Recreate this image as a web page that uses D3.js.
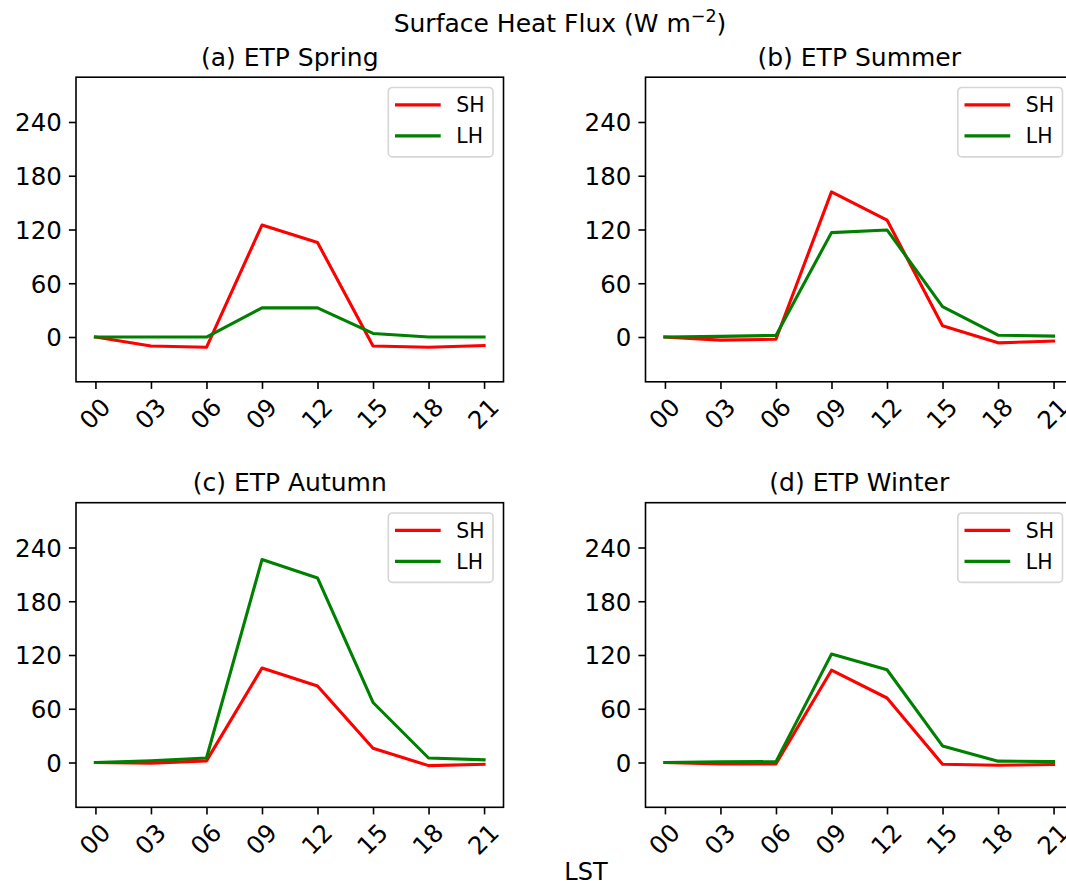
<!DOCTYPE html>
<html>
<head>
<meta charset="utf-8">
<script src="https://cdn.jsdelivr.net/npm/d3@7"></script>
<style>
  html, body { margin: 0; padding: 0; background: #ffffff; }
  svg { display: block; }
  text { font-family: "DejaVu Sans", sans-serif; fill: #000; }
</style>
</head>
<body>
<div id="chart"></div>
<script>
// ---- data ----
const hourLabels = ["00", "03", "06", "09", "12", "15", "18", "21"];
const yTicks = [0, 60, 120, 180, 240];
const panelTitles = ["(a) ETP Spring", "(b) ETP Summer", "(c) ETP Autumn", "(d) ETP Winter"];
const seriesNames = ["SH", "LH"];
const seriesColors = ["#ff0000", "#008000"];

const shSpring = [0, -10, -11.5, 125, 105.5, -10, -11.5, -9.5];
const lhSpring = [0, 0, 0, 32.5, 32.5, 4, 0, 0];
const shSummer = [0, -3.5, -2.5, 162, 130.5, 12.5, -6.5, -4.5];
const lhSummer = [0, 0.7, 1.8, 116.5, 119.5, 34, 2, 1];
const shAutumn = [0, -0.7, 1.8, 105.5, 85.5, 16, -3.5, -2];
const lhAutumn = [0, 2, 5, 226.5, 206, 67, 5, 3];
const shWinter = [0, -1.5, -1.5, 103, 72, -2, -3, -2.2];
const lhWinter = [0, 0.7, 1, 121, 103.5, 18.5, 1.5, 1];

const suptitle = "Surface Heat Flux (W m";
const xLabel = "LST";

// ---- layout ----
const width = 1066, height = 881;
const W = 427.5, H = 304.6;
const origins = [[76, 77.2], [645.5, 77.2], [76, 502.7], [645.5, 502.7]];
const panelData = [
  [shSpring, lhSpring], [shSummer, lhSummer],
  [shAutumn, lhAutumn], [shWinter, lhWinter]
];
const tickFont = 24.5, titleFont = 25, legendFont = 20.4;
const tickLen = 7.1, tickPad = 7.1, axisLW = 1.6, lineW = 3.1;

const svg = d3.select("#chart").append("svg")
  .attr("width", width).attr("height", height)
  .attr("viewBox", `0 0 ${width} ${height}`);

svg.append("rect").attr("width", width).attr("height", height).attr("fill", "#fff");

// suptitle with superscript
const st = svg.append("text")
  .attr("x", 560).attr("y", 32)
  .attr("text-anchor", "middle")
  .attr("font-size", 25);
st.append("tspan").text(suptitle);
st.append("tspan").attr("font-size", 17.5).attr("dy", -10).text("\u22122");
st.append("tspan").attr("dy", 10).text(")");

svg.append("text")
  .attr("x", 586).attr("y", 879.5)
  .attr("text-anchor", "middle")
  .attr("font-size", 24)
  .text(xLabel);

const x = d3.scaleLinear().domain([-0.35, 7.35]).range([0, W]);
const y = d3.scaleLinear().domain([-50, 290]).range([H, 0]);

panelData.forEach((series, pi) => {
  const [ox, oy] = origins[pi];
  const g = svg.append("g").attr("transform", `translate(${ox},${oy})`);

  // title
  g.append("text")
    .attr("x", W / 2).attr("y", -11.3)
    .attr("text-anchor", "middle")
    .attr("font-size", titleFont)
    .text(panelTitles[pi]);

  // y axis
  const ya = g.append("g")
    .call(d3.axisLeft(y).tickValues(yTicks).tickFormat(d3.format("d"))
      .tickSize(tickLen).tickPadding(tickPad).tickSizeOuter(0));
  ya.select(".domain").remove();
  ya.attr("font-family", null).attr("font-size", null);
  ya.selectAll(".tick line").attr("stroke", "#000").attr("stroke-width", axisLW);
  ya.selectAll(".tick text").attr("font-size", tickFont).attr("fill", "#000")
    .attr("dy", "0.36em");

  // x axis
  const xa = g.append("g").attr("transform", `translate(0,${H})`)
    .call(d3.axisBottom(x).tickValues(d3.range(hourLabels.length))
      .tickFormat(i => hourLabels[i]).tickSize(tickLen).tickSizeOuter(0));
  xa.select(".domain").remove();
  xa.attr("font-family", null).attr("font-size", null);
  xa.selectAll(".tick line").attr("stroke", "#000").attr("stroke-width", axisLW);
  xa.selectAll(".tick text")
    .attr("font-size", tickFont).attr("fill", "#000")
    .attr("y", null).attr("dy", null)
    .attr("text-anchor", "middle")
    .attr("dominant-baseline", "central")
    .attr("transform", "translate(-1,32) rotate(-45)");

  // clip
  const clipId = "clip" + pi;
  g.append("clipPath").attr("id", clipId)
    .append("rect").attr("width", W).attr("height", H);

  // lines
  const line = d3.line().x((d, i) => x(i)).y(d => y(d));
  const lg = g.append("g").attr("clip-path", `url(#${clipId})`);
  series.forEach((vals, si) => {
    lg.append("path")
      .datum(vals)
      .attr("d", line)
      .attr("fill", "none")
      .attr("stroke", seriesColors[si])
      .attr("stroke-width", lineW)
      .attr("stroke-linejoin", "round")
      .attr("stroke-linecap", "square");
  });

  // axes frame
  g.append("rect").attr("width", W).attr("height", H)
    .attr("fill", "none").attr("stroke", "#000").attr("stroke-width", axisLW);

  // legend
  const lw = 104.7, lh = 69.4;
  const lx = W - 10.5 - lw, ly = 10.3;
  const leg = g.append("g").attr("transform", `translate(${lx},${ly})`);
  leg.append("rect").attr("width", lw).attr("height", lh)
    .attr("rx", 4).attr("ry", 4)
    .attr("fill", "#fff").attr("fill-opacity", 0.8)
    .attr("stroke", "#d6d6d6").attr("stroke-width", 1.6);
  seriesNames.forEach((name, si) => {
    const ry = 17.4 + si * 31;
    leg.append("line")
      .attr("x1", 6.7).attr("x2", 52.4)
      .attr("y1", ry).attr("y2", ry)
      .attr("stroke", seriesColors[si]).attr("stroke-width", lineW)
      .attr("stroke-linecap", "butt");
    leg.append("text")
      .attr("x", 68).attr("y", ry + 0.365 * legendFont)
      .attr("font-size", legendFont)
      .text(name);
  });
});
</script>
</body>
</html>
